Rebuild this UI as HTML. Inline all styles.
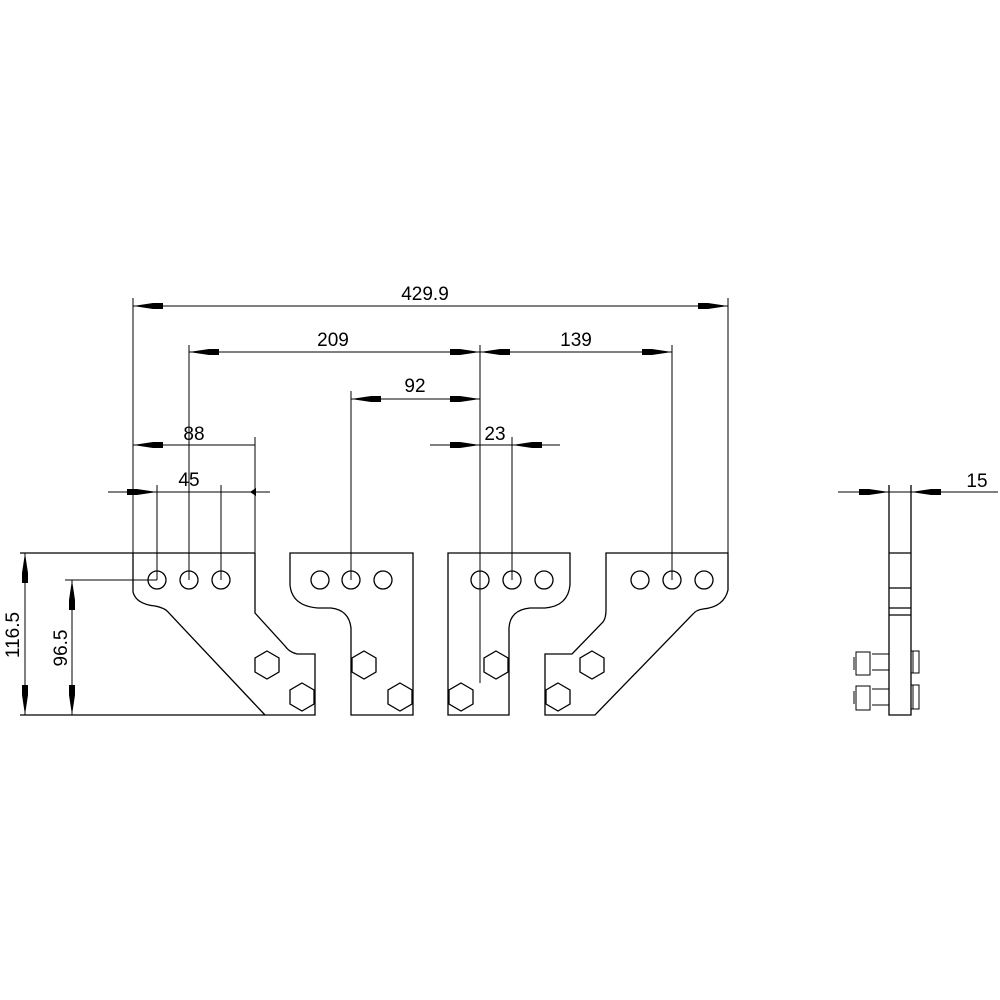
<!DOCTYPE html>
<html><head><style>body{margin:0;background:#fff}svg{display:block}</style></head><body>
<svg width="1000" height="1000" viewBox="0 0 1000 1000" xmlns="http://www.w3.org/2000/svg">
<defs>
<marker id="a" viewBox="0 0 30 10" refX="30" refY="5" markerWidth="30" markerHeight="10" markerUnits="userSpaceOnUse" orient="auto-start-reverse"><path d="M0,3.5 L30,5 L0,6.5 L0,2 L10,2 L10,8 L0,8Z M10,2 L30,5 L10,8Z" fill="#000"/></marker>
</defs>
<g fill="none" stroke="#000" stroke-width="1.3">
<path d="M20,553 H255 M133,553 V592 Q136,604 155,606 Q165,608 168,612 L265,715 M20,715 H315 V654 H297 Q289,652 285,646 L255,613 V553"/>
<path d="M290,553 H413 V715 H351 V628 Q349,610 331,608 H318 Q292,606 290,585 Z"/>
<path d="M448,553 H570 V585 Q568,606 545,608 H530 Q510,610 509,628 V715 H448 Z"/>
<path d="M606,553 H728 V590 Q724,607 703,609 Q696,610 693,614 L595,715 H545 V654 H572 L603,622 Q606,618 606,610 Z"/>
<g>
<circle cx="157" cy="580" r="9"/><circle cx="189" cy="580" r="9"/><circle cx="221" cy="580" r="9"/>
<circle cx="320" cy="580" r="9"/><circle cx="351" cy="580" r="9"/><circle cx="383" cy="580" r="9"/>
<circle cx="480" cy="580" r="9"/><circle cx="512" cy="580" r="9"/><circle cx="544" cy="580" r="9"/>
<circle cx="640" cy="580" r="9"/><circle cx="672" cy="580" r="9"/><circle cx="704" cy="580" r="9"/>
</g>
<g>
<polygon points="267,651 279,658 279,672 267,679 255,672 255,658"/>
<polygon points="302,683 314,690 314,704 302,711 290,704 290,690"/>
<polygon points="364,651 376,658 376,672 364,679 352,672 352,658"/>
<polygon points="400,683 412,690 412,704 400,711 388,704 388,690"/>
<polygon points="496,651 508,658 508,672 496,679 484,672 484,658"/>
<polygon points="461,683 473,690 473,704 461,711 449,704 449,690"/>
<polygon points="592,651 604,658 604,672 592,679 580,672 580,658"/>
<polygon points="558,683 570,690 570,704 558,711 546,704 546,690"/>
</g>
</g>
<g fill="none" stroke="#000" stroke-width="1">
<path d="M133,298 V553 M728,298 V553 M189,345 V580 M672,345 V580 M480,345 V683 M351,391 V580 M512,437 V580 M255,437 V553 M157,485 V580 M221,485 V580 M65,580 H157"/>
<path d="M133,306 H728" marker-start="url(#a)" marker-end="url(#a)"/>
<path d="M189,352 H480" marker-start="url(#a)" marker-end="url(#a)"/>
<path d="M480,352 H672" marker-start="url(#a)" marker-end="url(#a)"/>
<path d="M351,399 H480" marker-start="url(#a)" marker-end="url(#a)"/>
<path d="M133,445 H255" marker-start="url(#a)"/>
<path d="M430,445 H480" marker-end="url(#a)"/>
<path d="M560,445 H512" marker-end="url(#a)"/>
<path d="M480,445 H512"/>
<path d="M108,492 H157" marker-end="url(#a)"/>
<path d="M157,492 H270"/>
<path d="M25,553 V715" marker-start="url(#a)" marker-end="url(#a)"/>
<path d="M72,580 V715" marker-start="url(#a)" marker-end="url(#a)"/>
<path d="M838,492 H889" marker-end="url(#a)"/>
<path d="M998,492 H911" marker-end="url(#a)"/>
<path d="M889,492 H911"/>
<path d="M889,485 V715 H911 V485 M889,553 H911 M889,588 H911 M889,608 H911 M889,615 H911" stroke-width="1.3"/>
<path d="M872,654 H889 M872,670 H889 M872,689 H889 M872,705 H889"/>
<path d="M856,652 H870 V675 H856 Z M854,657 V670 M856,686 H870 V710 H856 Z M854,691 V704"/>
<path d="M911,651 H919 V673 H911 M911,685 H919 V709 H911 M913,651 V673 M913,685 V709"/>
</g>
<path d="M250,492 l6,-4 v8z" fill="#000"/>
<g font-family="Liberation Sans, sans-serif" font-size="19" fill="#000">
<text x="425" y="300" text-anchor="middle">429.9</text>
<text x="333" y="346" text-anchor="middle">209</text>
<text x="576" y="346" text-anchor="middle">139</text>
<text x="415" y="392" text-anchor="middle">92</text>
<text x="495" y="440" text-anchor="middle">23</text>
<text x="194" y="440" text-anchor="middle">88</text>
<text x="189" y="486" text-anchor="middle">45</text>
<text x="977" y="487" text-anchor="middle">15</text>
<text transform="translate(19,635) rotate(-90)" text-anchor="middle">116.5</text>
<text transform="translate(67,648) rotate(-90)" text-anchor="middle">96.5</text>
</g>
</svg>
</body></html>
